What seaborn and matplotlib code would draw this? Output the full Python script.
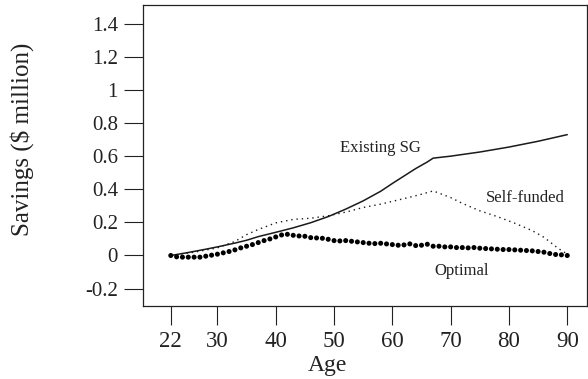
import matplotlib
matplotlib.use("Agg")
import matplotlib.pyplot as plt
import seaborn as sns
import pandas as pd

# ---- data ----
existing_age = [22, 25, 28, 30, 33, 35, 37, 40, 43, 46, 49, 52, 55, 58, 60, 62, 64, 66, 67, 70, 75, 80, 85, 90]
existing_val = [0.0, 0.018, 0.038, 0.052, 0.075, 0.092, 0.114, 0.140, 0.167, 0.198, 0.235, 0.280, 0.330, 0.388,
                0.435, 0.480, 0.525, 0.565, 0.588, 0.600, 0.625, 0.655, 0.690, 0.730]

self_age = [22, 26, 30, 33, 35, 37, 40, 43, 46, 49, 52, 55, 58, 60, 63, 65, 67, 70, 72, 75, 78, 81, 84, 86, 88, 89, 90]
self_val = [0.0, 0.020, 0.046, 0.085, 0.126, 0.157, 0.197, 0.218, 0.225, 0.240, 0.262, 0.290, 0.310, 0.327,
            0.352, 0.370, 0.390, 0.350, 0.315, 0.270, 0.235, 0.195, 0.150, 0.110, 0.055, 0.030, 0.010]

optimal_age = list(range(22, 91))
optimal_val = [0.000, -0.008, -0.010, -0.010, -0.010, -0.010, -0.004, 0.002, 0.008, 0.016,
               0.024, 0.034, 0.046, 0.056, 0.066, 0.078, 0.090, 0.100, 0.112, 0.124,
               0.128, 0.122, 0.118, 0.116, 0.108, 0.106, 0.104, 0.098, 0.090, 0.088,
               0.090, 0.086, 0.082, 0.078, 0.074, 0.072, 0.074, 0.070, 0.066, 0.062,
               0.064, 0.070, 0.060, 0.062, 0.068, 0.056, 0.056, 0.052, 0.052, 0.048,
               0.048, 0.046, 0.048, 0.044, 0.042, 0.040, 0.038, 0.036, 0.036, 0.034,
               0.032, 0.030, 0.028, 0.024, 0.020, 0.012, 0.006, 0.004, 0.000]

x_ticks = [22, 30, 40, 50, 60, 70, 80, 90]
y_ticks = [-0.2, 0, 0.2, 0.4, 0.6, 0.8, 1, 1.2, 1.4]
y_tick_labels = ["-0.2", "0", "0.2", "0.4", "0.6", "0.8", "1", "1.2", "1.4"]

labels = ["Existing SG", "Self-funded", "Optimal"]
label_pos = [(57.9, 0.65), (82.8, 0.35), (71.8, -0.096)]

# ---- style ----
sns.set_style("ticks")
plt.rcParams["font.family"] = ["Liberation Serif", "DejaVu Serif"]

fig = plt.figure(figsize=(5.88, 3.79), dpi=100)
ax = fig.add_axes([142.5 / 588, 1 - 305.5 / 379, 444 / 588, 300.5 / 379])

df_e = pd.DataFrame({"age": existing_age, "val": existing_val})
df_s = pd.DataFrame({"age": self_age, "val": self_val})
df_o = pd.DataFrame({"age": optimal_age, "val": optimal_val})

sns.lineplot(data=df_e, x="age", y="val", ax=ax, color="#1a1a1a", linewidth=1.1)
sns.lineplot(data=df_s, x="age", y="val", ax=ax, color="#1a1a1a", linewidth=1.0,
             linestyle=(0, (1, 2.8)))
sns.scatterplot(data=df_o, x="age", y="val", ax=ax, color="black", s=13,
                edgecolor="none", linewidth=0, zorder=3)

ax.set_xlim(17.15, 93.3)
ax.set_ylim(-0.302, 1.513)
ax.set_xticks(x_ticks)
ax.set_xticklabels([str(t) for t in x_ticks])
ax.set_yticks(y_ticks)
ax.set_yticklabels(y_tick_labels)

ax.tick_params(axis="both", direction="out", length=13.7, width=0.8, colors="#222222",
               labelcolor="#222222")
ax.tick_params(axis="x", labelsize=16.5, pad=5)
ax.tick_params(axis="y", labelsize=15, pad=4)
for sp in ax.spines.values():
    sp.set_linewidth(0.9)
    sp.set_color("#222222")
    sp.set_visible(True)

ax.set_xlabel("Age", fontsize=17, color="#222222")
ax.set_ylabel("Savings ($ million)", fontsize=18, color="#222222")
ax.xaxis.label.set_va("center")
ax.xaxis.set_label_coords((327 - 142.5) / 444, (305.5 - 366) / 300.5)
ax.yaxis.label.set_va("center")
ax.yaxis.set_label_coords((22 - 142.5) / 444, (305.5 - 139) / 300.5)

for txt, (x, y) in zip(labels, label_pos):
    ax.text(x, y, txt, ha="center", va="center", fontsize=12, color="#222222")

fig.savefig("out.png", dpi=100)
